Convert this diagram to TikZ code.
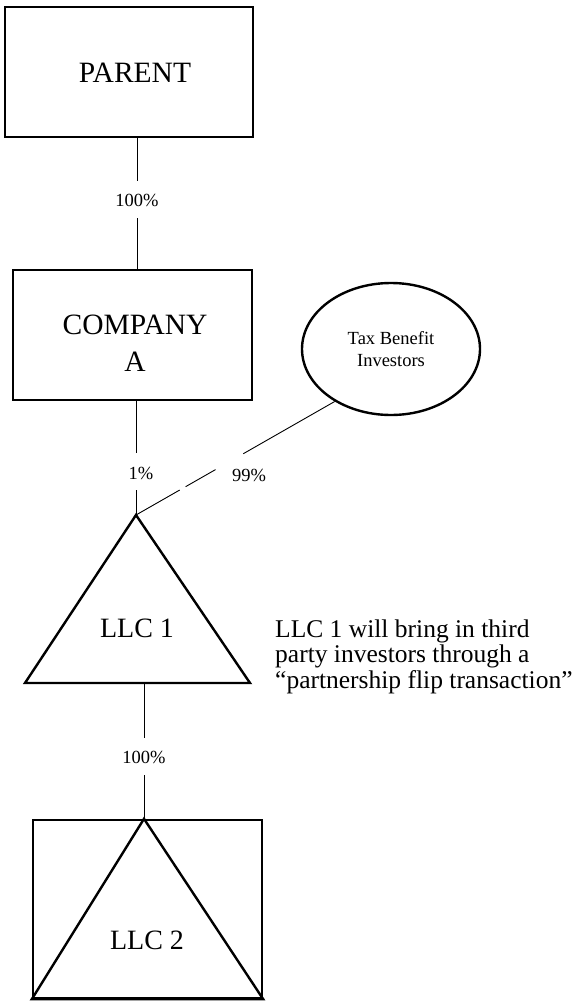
\documentclass[tikz,border=0pt]{standalone}
\usepackage{fontspec}
\setmainfont{Liberation Serif}
\usetikzlibrary{shapes.geometric,calc}
\begin{document}
\begin{tikzpicture}[x=1pt,y=-1pt,
  boxline/.style={draw, line width=2.4pt, inner sep=0pt},
  triline/.style={draw, line width=2.4pt},
  conn/.style={draw, line width=0.9pt},
  pct/.style={font=\fontsize{18.5}{20}\selectfont, inner sep=0pt},
  bigtxt/.style={font=\fontsize{29.5}{37}\selectfont, align=center, inner sep=0pt},
  llctxt/.style={font=\fontsize{28}{30}\selectfont, inner sep=0pt},
  note/.style={font=\fontsize{25.5}{25}\selectfont, anchor=base west, inner sep=0pt},
]
\useasboundingbox (0,0) rectangle (580,1001);

% PARENT
\node[boxline, minimum width=248pt, minimum height=130pt] (parent) at (129,72) {};
\node[bigtxt] (parenttxt) at (135,73) {PARENT};

% COMPANY A
\node[boxline, minimum width=239pt, minimum height=130pt] (company) at (132.5,335) {};
\node[bigtxt] (companytxt) at (135,343.5) {COMPANY\\A};

% parent -> company
\node[pct] (p1) at (137,200) {100\%};
\draw[conn] (parent.south -| p1) -- ($(p1)+(0,-19)$);
\draw[conn] ($(p1)+(0,18)$) -- (company.north -| p1);

% LLC 1 triangle
\coordinate (apex1) at (136,515);
\coordinate (bl1) at (25,683);
\coordinate (br1) at (250,683);
\draw[triline] (apex1) -- (bl1) -- (br1) -- cycle;
\node[llctxt] (llc1) at (137,628) {LLC 1};

% company -> LLC 1
\node[pct] (l1) at (141,473) {1\%};
\coordinate (l1a) at (apex1 |- l1);
\draw[conn] (company.south -| apex1) -- ($(l1a)+(0,-20)$);
\draw[conn] ($(l1a)+(0,17)$) -- (apex1);

% Tax Benefit Investors
\node[draw, ellipse, line width=2.4pt, minimum width=178pt, minimum height=132pt, inner sep=0pt,
      align=center, font=\fontsize{18.5}{22}\selectfont] (tbi) at (391,349) {Tax Benefit\\Investors};
\coordinate (e1) at (tbi.223);
\draw[conn] (apex1) -- ($(apex1)!0.22!(e1)$);
\draw[conn] ($(apex1)!0.25!(e1)$) -- ($(apex1)!0.4!(e1)$);
\draw[conn] ($(apex1)!0.54!(e1)$) -- (e1);
\node[pct] (p99) at (249,475) {99\%};

% note
\node[note] (n1) at (275,637) {LLC 1 will bring in third};
\node[note] (n2) at (275,662) {party investors through a};
\node[note] (n3) at (275,688) {“partnership flip transaction”};

% LLC 2
\node[boxline, minimum width=229pt, minimum height=178pt] (llc2box) at (147.5,909) {};
\node[pct] (p3) at (144,757) {100\%};
\coordinate (apex2) at (llc2box.north -| p3);
\draw[triline] (apex2) -- (llc2box.south west) -- (llc2box.south east) -- cycle;
\node[llctxt] (llc2) at (147,940) {LLC 2};

% LLC 1 -> LLC 2
\draw[conn] (p3 |- br1) -- ($(p3)+(0,-19)$);
\draw[conn] ($(p3)+(0,18)$) -- (apex2);
\end{tikzpicture}
\end{document}
